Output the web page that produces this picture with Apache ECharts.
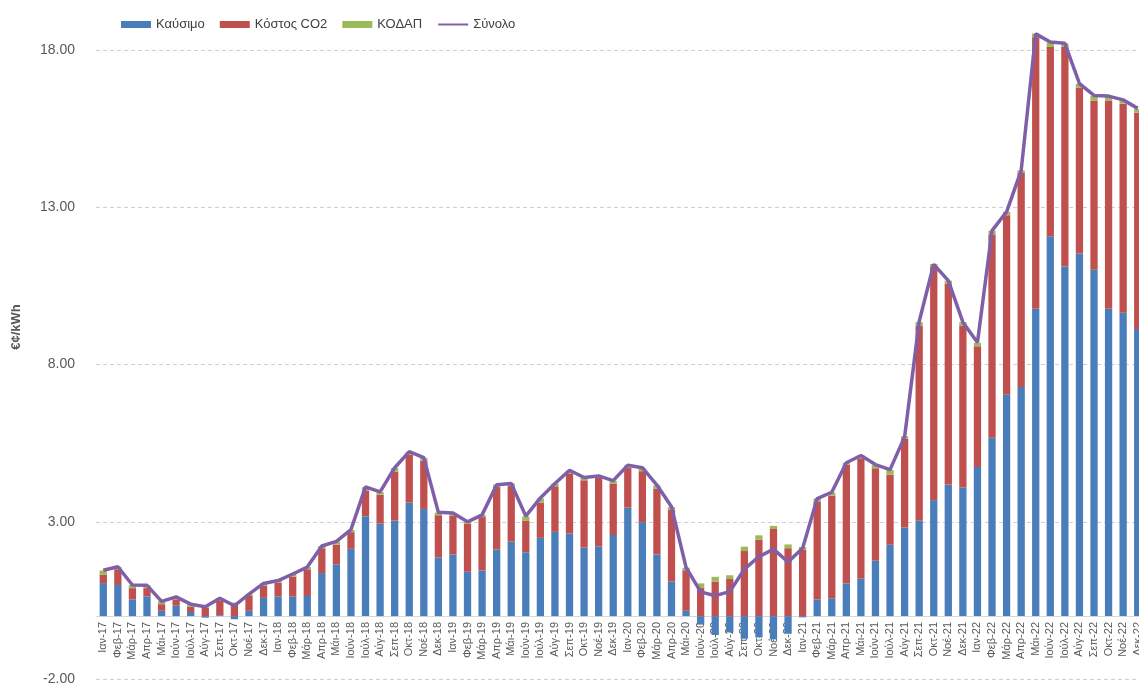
<!DOCTYPE html>
<html>
<head>
<meta charset="utf-8">
<script src="https://cdn.jsdelivr.net/npm/echarts@6/dist/echarts.min.js"></script>
<style>
html,body{margin:0;padding:0;background:#fff;}
#chart{width:1139px;height:686px;}
</style>
</head>
<body>
<div id="chart"></div>
<script>
const categories = [
 'Ιαν-17','Φεβ-17','Μάρ-17','Απρ-17','Μάι-17','Ιούν-17','Ιούλ-17','Αύγ-17','Σεπ-17','Οκτ-17','Νοέ-17','Δεκ-17',
 'Ιαν-18','Φεβ-18','Μάρ-18','Απρ-18','Μάι-18','Ιούν-18','Ιούλ-18','Αύγ-18','Σεπ-18','Οκτ-18','Νοέ-18','Δεκ-18',
 'Ιαν-19','Φεβ-19','Μάρ-19','Απρ-19','Μάι-19','Ιούν-19','Ιούλ-19','Αύγ-19','Σεπ-19','Οκτ-19','Νοέ-19','Δεκ-19',
 'Ιαν-20','Φεβ-20','Μάρ-20','Απρ-20','Μάι-20','Ιούν-20','Ιούλ-20','Αύγ-20','Σεπ-20','Οκτ-20','Νοέ-20','Δεκ-20',
 'Ιαν-21','Φεβ-21','Μάρ-21','Απρ-21','Μάι-21','Ιούν-21','Ιούλ-21','Αύγ-21','Σεπ-21','Οκτ-21','Νοέ-21','Δεκ-21',
 'Ιαν-22','Φεβ-22','Μάρ-22','Απρ-22','Μάι-22','Ιούν-22','Ιούλ-22','Αύγ-22','Σεπ-22','Οκτ-22','Νοέ-22','Δεκ-22'
];
const fuel = [
 1.05,0.99,0.53,0.63,0.17,0.33,0.13,-0.05,0.03,-0.10,0.17,0.58,
 0.63,0.63,0.64,1.37,1.65,2.14,3.18,2.94,3.04,3.61,3.41,1.87,
 1.96,1.41,1.45,2.12,2.37,2.03,2.49,2.68,2.63,2.18,2.22,2.58,
 3.45,2.99,1.96,1.10,0.17,-0.27,-0.60,-0.52,-0.72,-0.68,-0.74,-0.56,
 -0.04,0.53,0.57,1.04,1.19,1.76,2.27,2.82,3.03,3.69,4.19,4.09,
 4.74,5.67,7.04,7.29,9.78,12.08,11.12,11.53,11.02,9.78,9.65,9.13
];
const co2 = [
 0.27,0.50,0.36,0.26,0.21,0.20,0.17,0.27,0.47,0.36,0.47,0.38,
 0.43,0.63,0.85,0.79,0.62,0.53,0.82,0.92,1.55,1.53,1.54,1.34,
 1.24,1.53,1.70,1.99,1.77,1.01,1.12,1.45,1.91,2.14,2.18,1.64,
 1.27,1.62,2.10,2.28,1.29,0.91,1.10,1.18,2.07,2.43,2.77,2.16,
 2.11,3.12,3.26,3.77,3.83,2.94,2.23,2.82,6.20,7.43,6.39,5.14,
 3.84,6.47,5.71,6.82,8.63,6.02,6.98,5.28,5.38,6.62,6.65,6.88
];
const kodap = [
 0.13,0.08,0.10,0.09,0.09,0.08,0.08,0.07,0.07,0.07,0.06,0.08,
 0.07,0.08,0.07,0.07,0.10,0.07,0.10,0.08,0.12,0.08,0.08,0.08,
 0.07,0.06,0.07,0.07,0.08,0.13,0.13,0.09,0.08,0.08,0.07,0.08,
 0.07,0.09,0.10,0.09,0.08,0.13,0.15,0.12,0.14,0.14,0.10,0.12,
 0.09,0.09,0.10,0.07,0.09,0.11,0.15,0.08,0.12,0.08,0.09,0.12,
 0.11,0.12,0.11,0.07,0.12,0.15,0.12,0.12,0.15,0.13,0.10,0.12
];
const total = [
 1.46,1.57,0.99,0.98,0.47,0.61,0.38,0.30,0.57,0.33,0.70,1.04,
 1.13,1.34,1.56,2.23,2.38,2.75,4.11,3.95,4.72,5.23,5.04,3.30,
 3.28,3.00,3.22,4.18,4.22,3.18,3.76,4.22,4.64,4.41,4.46,4.31,
 4.80,4.72,4.17,3.48,1.55,0.77,0.65,0.78,1.49,1.89,2.13,1.72,
 2.16,3.74,3.94,4.88,5.11,4.82,4.66,5.70,9.37,11.19,10.67,9.35,
 8.70,12.26,12.86,14.17,18.52,18.26,18.22,16.94,16.56,16.54,16.42,16.15
];
const seriesNames = ['Καύσιμο','Κόστος CO2','ΚΟΔΑΠ','Σύνολο'];
const yAxisTitle = '€¢/kWh';

const FONT = '"Liberation Sans", Arial, sans-serif';
const chart = echarts.init(document.getElementById('chart'), null, {renderer:'canvas'});
chart.setOption({
  animation:false,
  backgroundColor:'#ffffff',
  textStyle:{fontFamily:FONT},
  legend:{
    data:[
      {name:seriesNames[0], icon:'rect'},
      {name:seriesNames[1], icon:'rect'},
      {name:seriesNames[2], icon:'rect'},
      {name:seriesNames[3], itemStyle:{opacity:0}}
    ],
    left:116, top:13,
    itemWidth:30, itemHeight:7, itemGap:15,
    textStyle:{fontSize:13, color:'#404040', fontFamily:FONT}
  },
  grid:{left:96, right:-6, top:-107, bottom:7, containLabel:false, outerBoundsMode:'none'},
  graphic:[{
    type:'text', x:16, y:327, rotation:Math.PI/2,
    style:{text:yAxisTitle, fill:'#595959', font:'bold 13px "Liberation Sans", Arial, sans-serif', textAlign:'center', textVerticalAlign:'middle'}
  }],
  xAxis:{
    type:'category', data:categories, offset:-63,
    axisTick:{show:false},
    axisLine:{onZero:false, lineStyle:{color:'#d9d9d9', width:1}},
    axisLabel:{interval:0, rotate:90, fontSize:11, color:'#595959', margin:6, fontFamily:FONT}
  },
  yAxis:{
    type:'value', min:-2, max:23, interval:5,
    axisLine:{show:false}, axisTick:{show:false},
    axisLabel:{fontSize:14, color:'#595959', margin:21, fontFamily:FONT,
      formatter:function(v){return v.toFixed(2);}},
    splitLine:{show:true, lineStyle:{color:'#d0d0d0', type:[4,3], width:1}}
  },
  series:[
    {name:seriesNames[0], type:'bar', stack:'a', data:fuel, barWidth:'50%', itemStyle:{color:'#4a7ebb'}},
    {name:seriesNames[1], type:'bar', stack:'a', data:co2, barWidth:'50%', itemStyle:{color:'#c0504d'}},
    {name:seriesNames[2], type:'bar', stack:'a', data:kodap, barWidth:'50%', itemStyle:{color:'#9bbb59'}},
    {name:seriesNames[3], type:'line', data:total, symbol:'none', z:5,
      lineStyle:{color:'#7f5fa8', width:3.5}, itemStyle:{color:'#7f5fa8'}}
  ]
});
</script>
</body>
</html>
